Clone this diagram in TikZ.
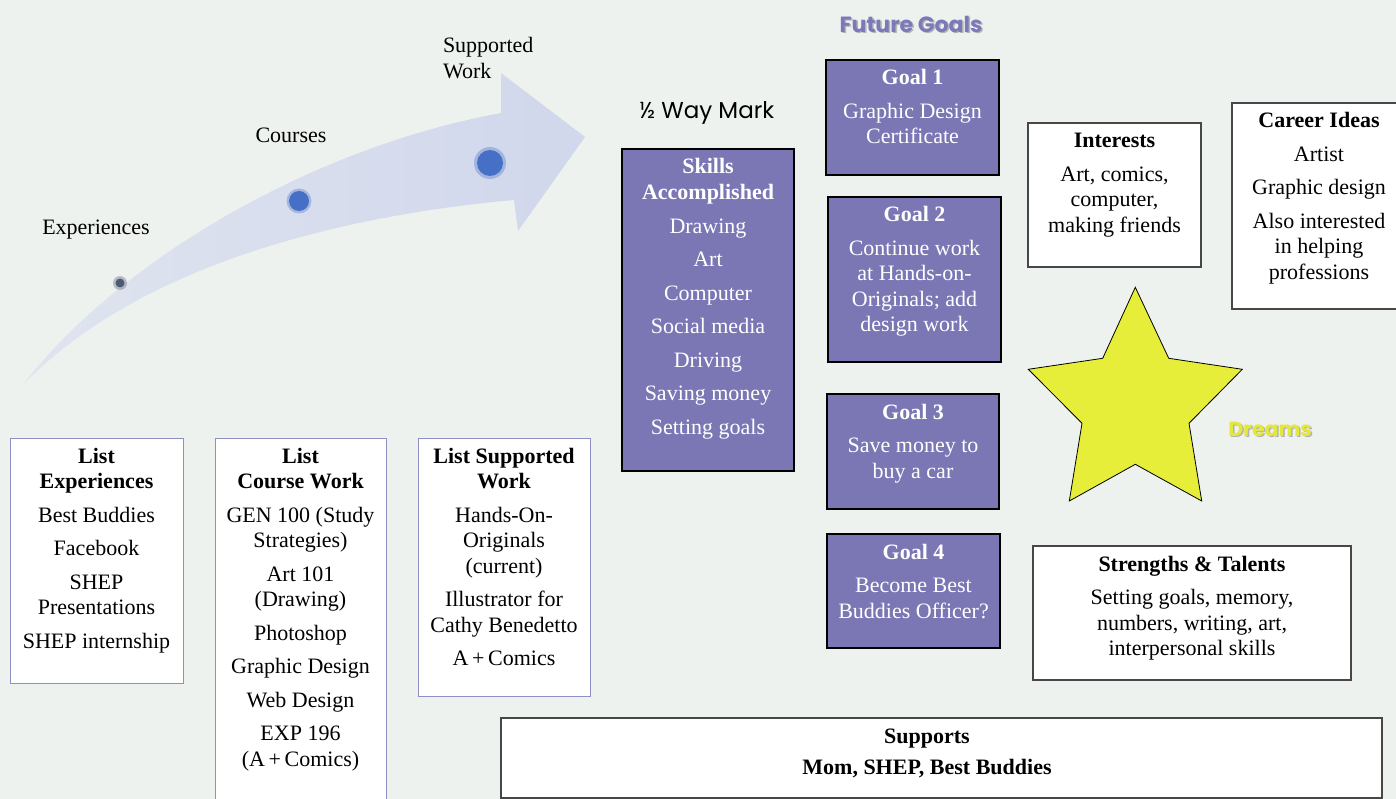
\documentclass[tikz,border=0pt]{standalone}
\usepackage{fontspec}
\setmainfont{Liberation Serif}
\newfontfamily\geofont{Poppins}
\definecolor{bg}{HTML}{EEF2EF}
\definecolor{goalfill}{HTML}{7A77B4}
\definecolor{listedge}{HTML}{8F8FC7}
\definecolor{boxedge}{HTML}{474747}
\definecolor{arrowlight}{HTML}{DFE4EF}
\definecolor{arrowdark}{HTML}{D1D7EC}
\definecolor{dotblue}{HTML}{4670C6}
\definecolor{dotgray}{HTML}{4E5A72}
\definecolor{staryellow}{HTML}{E6EE3A}
\definecolor{dreamyellow}{HTML}{E4E83C}
\definecolor{titlepurple}{HTML}{7C79B9}
\definecolor{shadowgray}{HTML}{B4B4B4}
% fixed-size cell: width, height, centred lines starting one baseline below the top
\newcommand\cellbox[3]{\parbox[c][#2][t]{#1}{\centering\rule{0pt}{25pt}#3}}
\begin{document}
\begin{tikzpicture}[x=1pt,y=-1pt,
  every node/.style={inner sep=0pt,outer sep=0pt,font=\fontsize{22pt}{25.5pt}\selectfont},
  listbox/.style={draw=listedge,fill=white,line width=1pt,anchor=north west},
  goalbox/.style={draw=black,fill=goalfill,text=white,line width=1.2pt,anchor=north west},
  plainbox/.style={draw=boxedge,fill=white,line width=1.5pt,anchor=north west},
  steplabel/.style={text=black},
  geotitle/.style={font=\geofont\bfseries\fontsize{22pt}{25pt}\selectfont},
  dreamtitle/.style={font=\geofont\bfseries\fontsize{20.5pt}{24pt}\selectfont},
]
\useasboundingbox (0,0) rectangle (1396,799);
\fill[bg] (0,0) rectangle (1396,799);
\begin{scope}
\clip (0,0) rectangle (1396,799);

% sweeping progress arrow
\shade[left color=arrowlight,right color=arrowdark]
  (22,386) .. controls (110,270) and (300,150) .. (501,113)
  -- (501,73) -- (585,137) -- (518,231) -- (514,200)
  .. controls (380,212) and (150,252) .. (22,386) -- cycle;

% milestones on the arrow
\fill[dotgray,opacity=0.35] (120,283) circle (7);
\fill[dotgray] (120,283) circle (4.5);
\fill[dotblue,opacity=0.35] (299,201) circle (12.5);
\fill[dotblue] (299,201) circle (10);
\fill[dotblue,opacity=0.35] (490,163) circle (16);
\fill[dotblue] (490,163) circle (13);

\node[steplabel] (lexp) at (96,230) {Experiences};
\node[steplabel] (lcourse) at (291,135) {Courses};
\node[steplabel,anchor=west,align=left] (lwork) at (443,58) {Supported\\Work};

% lists
\node[listbox] (exp) at (10,438) {\cellbox{173pt}{245pt}{%
  \textbf{List\\Experiences}\\[8pt]
  Best Buddies\\[8pt]
  Facebook\\[8pt]
  SHEP\\Presentations\\[8pt]
  SHEP internship}};
\node[listbox] (course) at (215,438) {\cellbox{171pt}{372pt}{%
  \textbf{List\\Course Work}\\[8pt]
  GEN 100 (Study\\Strategies)\\[8pt]
  Art 101\\(Drawing)\\[8pt]
  Photoshop\\[8pt]
  Graphic Design\\[8pt]
  Web Design\\[8pt]
  EXP 196\\(A\,+\,Comics)}};
\node[listbox] (work) at (418,438) {\cellbox{172pt}{258pt}{%
  \textbf{List Supported\\Work}\\[8pt]
  Hands-On-\\Originals\\(current)\\[8pt]
  Illustrator for\\Cathy Benedetto\\[8pt]
  A\,+\,Comics}};

% halfway mark
\node[font=\geofont\fontsize{23pt}{26pt}\selectfont] (half) at (707,113) {½ Way Mark};
\node[goalbox] (skills) at (622,149) {\cellbox{172pt}{322pt}{%
  \textbf{Skills\\Accomplished}\\[8pt]
  Drawing\\[8pt]
  Art\\[8pt]
  Computer\\[8pt]
  Social media\\[8pt]
  Driving\\[8pt]
  Saving money\\[8pt]
  Setting goals}};

% future goals
\node[geotitle,text=shadowgray] at (912.5,25.5) {Future Goals};
\node[geotitle,text=titlepurple] (future) at (911,24) {Future Goals};
\node[goalbox] (g1) at (826,60) {\cellbox{173pt}{115pt}{%
  \textbf{Goal 1}\\[8pt]
  Graphic Design\\Certificate}};
\node[goalbox] (g2) at (828,197) {\cellbox{173pt}{165pt}{%
  \textbf{Goal 2}\\[8pt]
  Continue work\\at Hands-on-\\Originals; add\\design work}};
\node[goalbox] (g3) at (827,394) {\cellbox{172pt}{115pt}{%
  \textbf{Goal 3}\\[8pt]
  Save money to\\buy a car}};
\node[goalbox] (g4) at (827,534) {\cellbox{173pt}{114pt}{%
  \textbf{Goal 4}\\[8pt]
  Become Best\\Buddies Officer?}};

% interests, careers, strengths
\node[plainbox] (interests) at (1028,123) {\cellbox{173pt}{144pt}{%
  \textbf{Interests}\\[8pt]
  Art, comics,\\computer,\\making friends}};
\node[plainbox] (career) at (1232,103) {\cellbox{174pt}{206pt}{%
  \textbf{Career Ideas}\\[8pt]
  Artist\\[8pt]
  Graphic design\\[8pt]
  Also interested\\in helping\\professions}};
\node[plainbox] (strengths) at (1033,546) {\cellbox{318pt}{134pt}{%
  \textbf{Strengths \& Talents}\\[8pt]
  Setting goals, memory,\\numbers, writing, art,\\interpersonal skills}};

% dreams star
\filldraw[fill=staryellow,draw=black,line width=0.8pt]
  (1135.3,287.3) -- (1168.7,358.3) -- (1242.3,369.3) -- (1189,423.3)
  -- (1201.7,501) -- (1135.3,464.3) -- (1069.3,501) -- (1082,423.3)
  -- (1028.3,369.3) -- (1102.7,358.3) -- cycle;
\node[dreamtitle,text=shadowgray] at (1271.5,430.5) {Dreams};
\node[dreamtitle,text=dreamyellow] (dreams) at (1270,429) {Dreams};

% supports
\node[plainbox] (supports) at (501,718) {\parbox[c][80pt][t]{881pt}{\centering
  \rule{0pt}{25pt}\textbf{Supports}\rule{29pt}{0pt}\\[5.5pt]
  \textbf{Mom, SHEP, Best Buddies}\rule{29pt}{0pt}}};
\end{scope}
\end{tikzpicture}
\end{document}
